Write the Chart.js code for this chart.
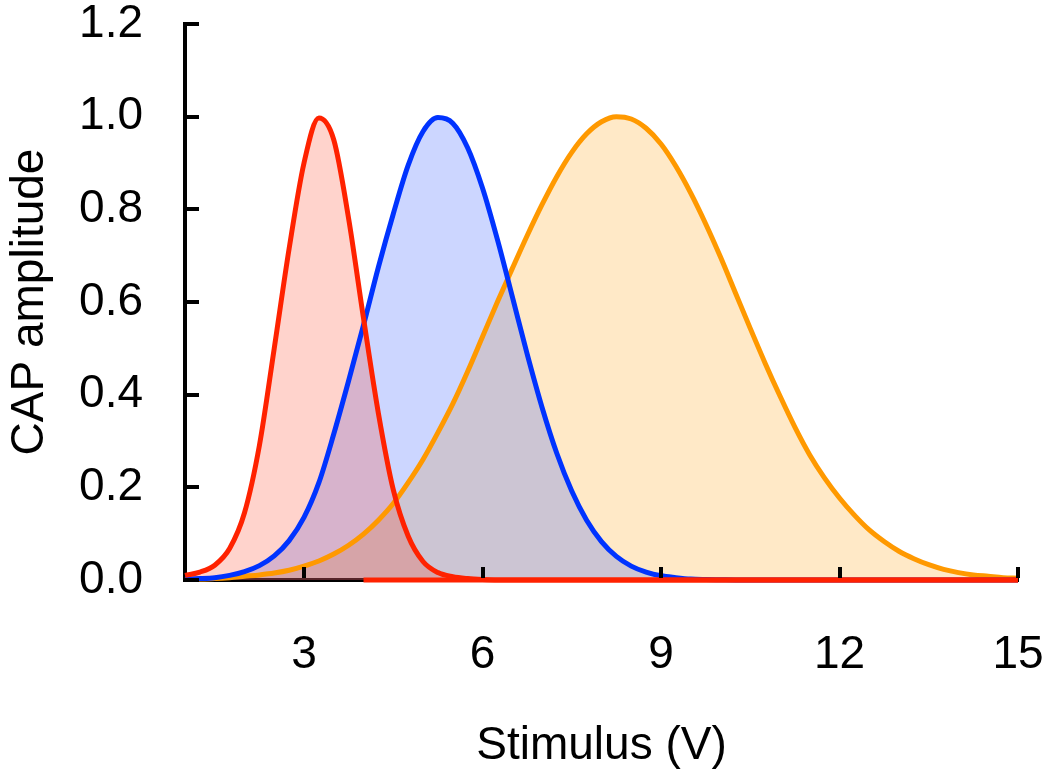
<!DOCTYPE html>
<html>
<head>
<meta charset="utf-8">
<title>CAP amplitude vs stimulus</title>
<script src="https://cdn.jsdelivr.net/npm/chart.js@4/dist/chart.umd.min.js"></script>
<style>
  html, body { margin: 0; padding: 0; background: #fff; }
  canvas { display: block; }
</style>
</head>
<body>
<canvas id="cap" width="1048" height="771"></canvas>
<script>
// Stimulus voltages (V) at which the three recruitment curves are sampled
const stimulus = [
  1.00, 1.25, 1.50, 1.75, 2.00, 2.25, 2.50, 2.75, 3.00, 3.25,
  3.50, 3.75, 4.00, 4.25, 4.50, 4.75, 5.00, 5.25, 5.50, 5.75,
  6.00, 6.25, 6.50, 6.75, 7.00, 7.25, 7.50, 7.75, 8.00, 8.25,
  8.50, 8.75, 9.00, 9.25, 9.50, 9.75, 10.00, 10.25, 10.50, 10.75,
  11.00, 11.25, 11.50, 11.75, 12.00, 12.25, 12.50, 12.75, 13.00, 13.25,
  13.50, 13.75, 14.00, 14.25, 14.50, 14.75, 15.00
];

// Normalised CAP amplitude, red curve (lowest threshold)
const capRed = [
  0.010, 0.017, 0.032, 0.068, 0.145, 0.290, 0.500, 0.715, 0.900, 0.997,
  0.950, 0.780, 0.565, 0.360, 0.195, 0.095, 0.040, 0.016, 0.007, 0.003,
  0.001, 0, 0, 0, 0, 0, 0, 0, 0, 0,
  0, 0, 0, 0, 0, 0, 0, 0, 0, 0,
  0, 0, 0, 0, 0, 0, 0, 0, 0, 0,
  0, 0, 0, 0, 0, 0, 0
];

// Normalised CAP amplitude, blue curve
const capBlue = [
  0.002, 0.003, 0.005, 0.010, 0.018, 0.031, 0.052, 0.085, 0.135, 0.210,
  0.315, 0.430, 0.550, 0.675, 0.790, 0.895, 0.968, 0.998, 0.986, 0.933,
  0.846, 0.735, 0.612, 0.488, 0.373, 0.273, 0.192, 0.129, 0.083, 0.051,
  0.030, 0.017, 0.009, 0.005, 0.002, 0.001, 0.0005, 0, 0, 0,
  0, 0, 0, 0, 0, 0, 0, 0, 0, 0,
  0, 0, 0, 0, 0, 0, 0
];

// Normalised CAP amplitude, orange curve (highest threshold)
const capOrange = [
  0.001, 0.002, 0.003, 0.005, 0.008, 0.011, 0.015, 0.021, 0.030, 0.041,
  0.056, 0.075, 0.099, 0.129, 0.165, 0.210, 0.260, 0.318, 0.380, 0.450,
  0.525, 0.600, 0.672, 0.743, 0.810, 0.871, 0.923, 0.963, 0.989, 1.000,
  0.995, 0.975, 0.941, 0.893, 0.835, 0.769, 0.697, 0.620, 0.543, 0.468,
  0.397, 0.330, 0.270, 0.220, 0.177, 0.140, 0.108, 0.083, 0.062, 0.046,
  0.033, 0.023, 0.016, 0.011, 0.008, 0.005, 0.004
];

// Red zero line running along the stimulus axis
const redBaseX = [4, 15];
const redBaseY = [0, 0];

// Axis tick values
const xTickValues = [3, 6, 9, 12, 15];
const yTickValues = [0, 0.2, 0.4, 0.6, 0.8, 1.0, 1.2];

const FONT = '"Liberation Sans", Arial, Helvetica, sans-serif';
const pairs = (xs, ys) => xs.map((x, i) => ({ x, y: ys[i] }));

// Short tick marks drawn inside the plot area
const inwardTicks = {
  id: 'inwardTicks',
  afterDatasetsDraw(chart) {
    const { ctx, chartArea, scales: { x, y } } = chart;
    ctx.save();
    ctx.strokeStyle = '#000';
    ctx.lineWidth = 4;
    ctx.lineCap = 'butt';
    y.ticks.forEach(t => {
      const py = Math.round(y.getPixelForValue(t.value));
      ctx.beginPath();
      ctx.moveTo(chartArea.left, py);
      ctx.lineTo(chartArea.left + 14, py);
      ctx.stroke();
    });
    x.ticks.forEach(t => {
      const px = Math.round(x.getPixelForValue(t.value));
      ctx.beginPath();
      ctx.moveTo(px, chartArea.bottom - 2);
      ctx.lineTo(px, chartArea.bottom - 13);
      ctx.stroke();
    });
    ctx.restore();
  }
};

const common = { pointRadius: 0, fill: 'origin', clip: false, cubicInterpolationMode: 'monotone', borderWidth: 5 };

new Chart(document.getElementById('cap'), {
  type: 'line',
  data: {
    datasets: [
      {
        label: 'baseline',
        data: pairs(redBaseX, redBaseY),
        borderColor: '#ff2200',
        borderWidth: 5,
        pointRadius: 0,
        fill: false,
        clip: false
      },
      Object.assign({
        label: 'red',
        data: pairs(stimulus, capRed),
        borderColor: '#ff2200',
        backgroundColor: 'rgba(255, 34, 0, 0.2)'
      }, common),
      Object.assign({
        label: 'blue',
        data: pairs(stimulus, capBlue),
        borderColor: '#0033ff',
        backgroundColor: 'rgba(0, 51, 255, 0.2)'
      }, common),
      Object.assign({
        label: 'orange',
        data: pairs(stimulus, capOrange),
        borderColor: '#ff9900',
        backgroundColor: 'rgba(255, 153, 0, 0.22)'
      }, common)
    ]
  },
  options: {
    responsive: false,
    animation: false,
    devicePixelRatio: 1,
    layout: { padding: { left: 0, right: 30, top: 24, bottom: 0 } },
    plugins: {
      legend: { display: false },
      tooltip: { enabled: false },
      // all shaded areas go down first, curves are stroked over them
      filler: { drawTime: 'beforeDatasetsDraw' }
    },
    scales: {
      x: {
        type: 'linear',
        min: 1,
        max: 15,
        afterBuildTicks: s => { s.ticks = xTickValues.map(v => ({ value: v })); },
        afterFit: s => { s.height = 191; s.paddingLeft = 0; s.paddingRight = 0; },
        grid: { display: false, drawTicks: false },
        border: { display: true, color: '#000', width: 4 },
        ticks: {
          color: '#000',
          font: { family: FONT, size: 46 },
          padding: 48,
          maxRotation: 0,
          autoSkip: false
        },
        title: {
          display: true,
          text: 'Stimulus (V)',
          color: '#000',
          font: { family: FONT, size: 46 },
          padding: { top: 0, bottom: -3 }
        }
      },
      y: {
        type: 'linear',
        min: 0,
        max: 1.2,
        afterBuildTicks: s => { s.ticks = yTickValues.map(v => ({ value: v })); },
        afterFit: s => { s.width = 185; s.paddingTop = 0; s.paddingBottom = 0; },
        grid: { display: false, drawTicks: false },
        border: { display: true, color: '#000', width: 4 },
        ticks: {
          color: '#000',
          font: { family: FONT, size: 46 },
          padding: 42,
          callback: v => Number(v).toFixed(1)
        },
        title: {
          display: true,
          text: 'CAP amplitude',
          color: '#000',
          font: { family: FONT, size: 46 },
          padding: { top: 3, bottom: 0 }
        }
      }
    }
  },
  plugins: [inwardTicks]
});
</script>
</body>
</html>
